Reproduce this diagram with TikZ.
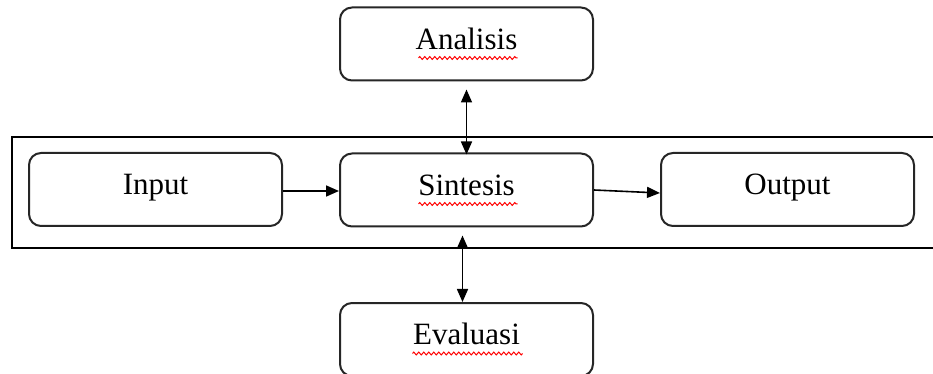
\documentclass[tikz,border=0pt]{standalone}
\usepackage{fontspec}
\setmainfont{Liberation Serif}
\usetikzlibrary{arrows.meta,decorations.pathmorphing,calc}
\begin{document}
\begin{tikzpicture}[x=0.5pt,y=-0.5pt,
  box/.style={draw=black!85, line width=1pt, rounded corners=6pt, fill=white,
    minimum width=126.5pt, minimum height=36.5pt, inner sep=0pt,
    text height=0.68em, text depth=0.15em,
    font=\fontsize{15.5}{18}\selectfont},
  frame/.style={draw=black, line width=1pt},
  link/.style={draw=black, line width=0.8pt, -{Triangle[length=6.5pt,width=5.5pt]}},
  biline/.style={draw=black, line width=0.8pt, {Triangle[length=6.5pt,width=5.5pt]}-{Triangle[length=6.5pt,width=5.5pt]}},
  spell/.style={draw=red, line width=0.5pt, decorate,
    decoration={zigzag, segment length=2.5pt, amplitude=0.7pt}}]
\useasboundingbox (0,0) rectangle (933,374);
\begin{scope}
\clip (0,0) rectangle (933,374);
\node[frame, minimum width=464pt, minimum height=55.5pt, inner sep=0pt] (fr) at (476,192.5) {};
\node[box] (ana) at (466.5,44) {Analisis};
\node[box] (sin) at (466.5,190) {Sintesis};
\node[box] (inp) at (155.5,189.5) {Input};
\node[box] (out) at (787.5,189.5) {Output};
\node[box] (eva) at (466.5,339.5) {Evaluasi};
\draw[link] (inp.east |- 0,191) -- (sin.west |- 0,191);
\draw[link] (sin.east |- 0,190) -- (out.west |- 0,193);
\draw[biline] ($(ana.south)+(0,8)$) -- ($(sin.north)+(0,2)$);
\draw[biline] ($(sin.south)+(-4,8)$) -- ($(eva.north)+(-4,0)$);
\draw[spell] ($(ana.center)+(-48,14)$) -- ($(ana.center)+(51,14)$);
\draw[spell] ($(sin.center)+(-48,14)$) -- ($(sin.center)+(51,14)$);
\draw[spell] ($(eva.center)+(-54,14)$) -- ($(eva.center)+(56,14)$);
\end{scope}
\end{tikzpicture}
\end{document}
